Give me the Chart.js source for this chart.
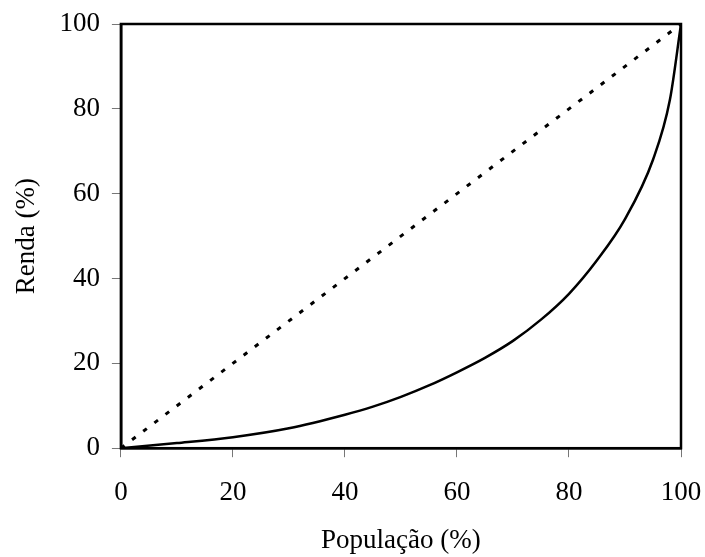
<!DOCTYPE html>
<html>
<head>
<meta charset="utf-8">
<script src="https://cdn.jsdelivr.net/npm/chart.js@4.4.1/dist/chart.umd.min.js"></script>
<style>
  html, body { margin: 0; padding: 0; background: #fff; }
  #wrap { width: 705px; height: 557px; }
</style>
</head>
<body>
<div id="wrap"><canvas id="lorenz"></canvas></div>
<script>
// Lorenz curve
const populacao = [0, 10, 20, 30, 40, 45, 50, 55, 60, 65, 70, 75, 80, 85, 90, 95, 98, 100];
const renda = [0, 1.2, 2.6, 4.7, 7.9, 9.8, 12.1, 14.8, 17.9, 21.3, 25.3, 30.3, 36.4, 44.3, 54, 68, 82, 100];
// line of perfect equality
const igualdadeX = [0, 100];
const igualdadeY = [0, 100];
const tickValues = [0, 20, 40, 60, 80, 100];

const fontFamily = '"Liberation Serif", "Times New Roman", serif';

// closes the box round the plot area (top and right sides)
const frameBox = {
    id: 'frameBox',
    afterDatasetsDraw(chart) {
        const { ctx, chartArea: a } = chart;
        ctx.save();
        ctx.strokeStyle = '#000';
        ctx.lineWidth = 2.5;
        ctx.strokeRect(a.left, a.top, a.right - a.left, a.bottom - a.top);
        ctx.restore();
    }
};

const axisBase = (title) => ({
    type: 'linear',
    min: 0,
    max: 100,
    grid: {
        drawOnChartArea: false,
        drawTicks: true,
        tickLength: 9,
        tickColor: '#777',
        tickWidth: 1
    },
    border: { display: true, color: '#000', width: 2.5 },
    afterBuildTicks: (axis) => {
        axis.ticks = tickValues.map(v => ({ value: v }));
    },
    // end labels may hang over the edges; layout padding handles the margins
    afterFit: (axis) => {
        axis.paddingLeft = 0;
        axis.paddingRight = 0;
        axis.paddingTop = 0;
        axis.paddingBottom = 0;
    },
    ticks: {
        color: '#000',
        font: { family: fontFamily, size: 27 }
    },
    title: {
        display: true,
        text: title,
        color: '#000',
        font: { family: fontFamily, size: 27 }
    }
});

const xAxis = axisBase('População (%)');
xAxis.ticks.padding = 20;
xAxis.title.padding = { top: -5, bottom: 0 };
const yAxis = axisBase('Renda (%)');
yAxis.ticks.padding = 12;
yAxis.title.padding = { top: 0, bottom: 4 };

new Chart(document.getElementById('lorenz').getContext('2d'), {
    type: 'line',
    data: {
        datasets: [
            {
                label: 'Curva de Lorenz',
                data: populacao.map((x, i) => ({ x: x, y: renda[i] })),
                borderColor: '#000',
                borderWidth: 2.5,
                pointRadius: 0,
                cubicInterpolationMode: 'monotone',
                fill: false
            },
            {
                label: 'Igualdade',
                data: igualdadeX.map((x, i) => ({ x: x, y: igualdadeY[i] })),
                borderColor: '#000',
                borderWidth: 3,
                borderDash: [4.5, 9.5],
                pointRadius: 0,
                fill: false
            }
        ]
    },
    options: {
        responsive: true,
        maintainAspectRatio: false,
        animation: false,
        layout: { padding: { top: 24, right: 24, left: 11, bottom: 0 } },
        scales: { x: xAxis, y: yAxis },
        plugins: {
            legend: { display: false },
            tooltip: { enabled: false }
        }
    },
    plugins: [frameBox]
});
</script>
</body>
</html>
